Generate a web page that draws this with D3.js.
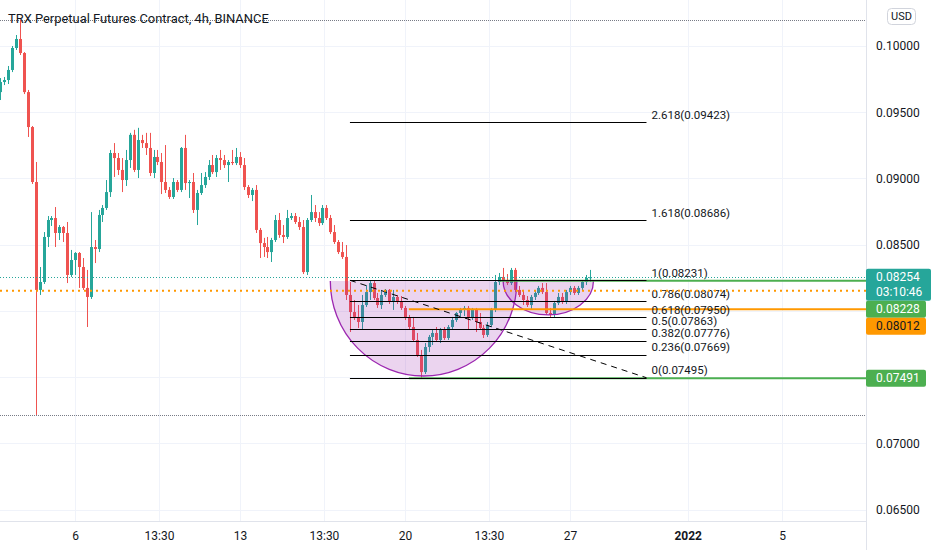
<!DOCTYPE html>
<html><head><meta charset="utf-8">
<script src="https://cdn.jsdelivr.net/npm/d3@7"></script>
<style>body{margin:0;background:#fff;}svg{display:block;}</style>
</head><body>
<svg id="c" width="932" height="550"></svg>
<script>
// ---------- DATA ----------
const title = "TRX Perpetual Futures Contract, 4h, BINANCE";
const startTime = Date.UTC(2021, 11, 2, 20);   // first 4h bar
const barHours = 4;
const open = [0.09652,0.09728,0.09743,0.09819,0.09985,0.10053,0.09947,0.09652,0.09388,0.08973,
0.08158,0.08218,0.08558,0.08686,0.08701,0.08588,0.08633,0.08588,0.08271,0.08384,
0.08437,0.08331,0.08173,0.08105,0.08482,0.08467,0.08724,0.08777,0.08897,0.09192,
0.09154,0.09064,0.08988,0.09139,0.09329,0.09064,0.09290,0.09267,0.09230,0.09041,
0.09162,0.09124,0.08973,0.08913,0.08860,0.08973,0.08913,0.09230,0.08965,0.08973,
0.08762,0.08890,0.08950,0.09011,0.09101,0.09048,0.09154,0.09139,0.09101,0.09124,
0.09116,0.09162,0.09101,0.08935,0.08875,0.08913,0.08611,0.08512,0.08482,0.08444,
0.08535,0.08686,0.08573,0.08558,0.08701,0.08716,0.08671,0.08633,0.08293,0.08686,
0.08746,0.08701,0.08663,0.08777,0.08701,0.08595,0.08520,0.08444,0.08407,0.08120,
0.07991,0.07954,0.07916,0.08044,0.08142,0.08210,0.08097,0.08044,0.08120,0.08158,
0.08067,0.08105,0.08067,0.08022,0.07946,0.07878,0.07780,0.07667,0.07538,0.07727,
0.07803,0.07833,0.07780,0.07856,0.07795,0.07878,0.07931,0.07984,0.08007,0.08022,
0.07946,0.08007,0.07916,0.07871,0.07818,0.07893,0.08007,0.08218,0.08256,0.08233,
0.08210,0.08309,0.08158,0.08120,0.08082,0.08044,0.08105,0.08135,0.08173,0.08142,
0.07984,0.07969,0.08059,0.08105,0.08067,0.08142,0.08173,0.08135,0.08173,0.08218,
0.08248];
const high = [0.09758,0.09766,0.09849,0.10000,0.10083,0.10196,0.09954,0.09668,0.09396,0.09124,
0.08331,0.08595,0.08716,0.08716,0.08784,0.08648,0.08641,0.08671,0.08460,0.08444,
0.08444,0.08399,0.08309,0.08746,0.08535,0.08762,0.08799,0.08988,0.09215,0.09267,
0.09192,0.09154,0.09215,0.09344,0.09367,0.09382,0.09329,0.09344,0.09344,0.09215,
0.09215,0.09192,0.09252,0.08935,0.09003,0.08988,0.09237,0.09329,0.08988,0.09041,
0.08913,0.09041,0.09048,0.09139,0.09177,0.09177,0.09215,0.09177,0.09139,0.09215,
0.09230,0.09199,0.09154,0.08950,0.08928,0.08950,0.08626,0.08551,0.08558,0.08551,
0.08724,0.08739,0.08648,0.08762,0.08739,0.08739,0.08709,0.08686,0.08701,0.08875,
0.08799,0.08746,0.08799,0.08799,0.08724,0.08648,0.08535,0.08520,0.08497,0.08218,
0.08082,0.08044,0.08120,0.08195,0.08225,0.08225,0.08135,0.08158,0.08165,0.08165,
0.08158,0.08120,0.08112,0.08037,0.07969,0.07954,0.07833,0.07705,0.07757,0.07818,
0.07856,0.07878,0.07871,0.07878,0.07893,0.07954,0.07991,0.08022,0.08037,0.08037,
0.08022,0.08022,0.07984,0.07893,0.07916,0.08022,0.08271,0.08286,0.08324,0.08278,
0.08324,0.08324,0.08188,0.08158,0.08112,0.08120,0.08150,0.08188,0.08210,0.08210,
0.08022,0.08075,0.08135,0.08135,0.08158,0.08188,0.08188,0.08188,0.08233,0.08271,
0.08309];
const low = [0.09592,0.09705,0.09713,0.09803,0.09970,0.09932,0.09637,0.09313,0.08958,0.07214,
0.08120,0.08203,0.08482,0.08641,0.08482,0.08535,0.08520,0.08210,0.08256,0.08271,
0.08173,0.08158,0.07878,0.08090,0.08361,0.08444,0.08671,0.08762,0.08860,0.09011,
0.09026,0.08897,0.08943,0.09079,0.09048,0.09003,0.09230,0.09177,0.09018,0.09003,
0.09101,0.08882,0.08890,0.08845,0.08845,0.08897,0.08897,0.08913,0.08852,0.08739,
0.08648,0.08875,0.08928,0.08988,0.09033,0.09011,0.09064,0.09079,0.08973,0.09101,
0.09101,0.09079,0.08913,0.08852,0.08829,0.08588,0.08399,0.08407,0.08399,0.08369,
0.08520,0.08551,0.08512,0.08543,0.08686,0.08656,0.08611,0.08278,0.08271,0.08671,
0.08671,0.08641,0.08648,0.08686,0.08580,0.08505,0.08429,0.08392,0.08082,0.07840,
0.07931,0.07871,0.07856,0.08029,0.08082,0.08082,0.08022,0.08014,0.08105,0.08052,
0.08007,0.08052,0.08007,0.07931,0.07863,0.07765,0.07652,0.07493,0.07523,0.07689,
0.07742,0.07765,0.07757,0.07780,0.07780,0.07863,0.07916,0.07954,0.07961,0.07856,
0.07931,0.07840,0.07856,0.07795,0.07803,0.07878,0.07991,0.08195,0.08210,0.08195,
0.08195,0.08142,0.08105,0.08044,0.08029,0.08014,0.08082,0.08120,0.08127,0.07969,
0.07954,0.07954,0.08044,0.08052,0.08052,0.08120,0.08120,0.08120,0.08158,0.08195,
0.08218];
const close = [0.09728,0.09743,0.09819,0.09985,0.10053,0.09947,0.09652,0.09388,0.08973,0.08158,
0.08218,0.08558,0.08686,0.08701,0.08588,0.08633,0.08588,0.08271,0.08384,0.08437,
0.08331,0.08173,0.08105,0.08482,0.08467,0.08724,0.08777,0.08897,0.09192,0.09154,
0.09064,0.08988,0.09139,0.09329,0.09064,0.09290,0.09267,0.09230,0.09041,0.09162,
0.09124,0.08973,0.08913,0.08860,0.08973,0.08913,0.09230,0.08965,0.08973,0.08762,
0.08890,0.08950,0.09011,0.09101,0.09048,0.09154,0.09139,0.09101,0.09124,0.09116,
0.09162,0.09101,0.08935,0.08875,0.08913,0.08611,0.08512,0.08482,0.08444,0.08535,
0.08686,0.08573,0.08558,0.08701,0.08716,0.08671,0.08633,0.08293,0.08686,0.08746,
0.08701,0.08663,0.08777,0.08701,0.08595,0.08520,0.08444,0.08407,0.08120,0.07991,
0.07954,0.07916,0.08044,0.08142,0.08210,0.08097,0.08044,0.08120,0.08158,0.08067,
0.08105,0.08067,0.08022,0.07946,0.07878,0.07780,0.07667,0.07538,0.07727,0.07803,
0.07833,0.07780,0.07856,0.07795,0.07878,0.07931,0.07984,0.08007,0.08022,0.07946,
0.08007,0.07916,0.07871,0.07818,0.07893,0.08007,0.08218,0.08256,0.08233,0.08210,
0.08309,0.08158,0.08120,0.08082,0.08044,0.08105,0.08135,0.08173,0.08142,0.07984,
0.07969,0.08059,0.08105,0.08067,0.08142,0.08173,0.08135,0.08173,0.08218,0.08248,
0.08254];

const priceTicks = [0.065,0.070,0.075,0.080,0.085,0.090,0.095,0.100];
const timeTickDates = [Date.UTC(2021,11,6), Date.UTC(2021,11,9,13,30), Date.UTC(2021,11,13),
  Date.UTC(2021,11,16,13,30), Date.UTC(2021,11,20), Date.UTC(2021,11,23,13,30),
  Date.UTC(2021,11,27), Date.UTC(2022,0,1), Date.UTC(2022,0,5)];
const timeTickLabels = ["6","13:30","13","13:30","20","13:30","27","2022","5"];

// Fibonacci retracement drawing
const fibLevels = [0, 0.236, 0.382, 0.5, 0.618, 0.786, 1, 1.618, 2.618];
const fibPrices = [0.07495, 0.07669, 0.07776, 0.07863, 0.07950, 0.08074, 0.08231, 0.08686, 0.09423];
const fibStart = Date.UTC(2021,11,17,16);
const fibEnd = Date.UTC(2021,11,30,6);

// cup arcs (left time, right time, rim price, bottom price)
const arcT0 = [Date.UTC(2021,11,16,20), Date.UTC(2021,11,24,4)];
const arcT1 = [Date.UTC(2021,11,24,18), Date.UTC(2021,11,28,0)];
const arcTop = [0.08226, 0.08226];
const arcBottom = [0.07508, 0.07969];

// horizontal lines
const highPrice = 0.10196, lowPrice = 0.07213;
const lastPrice = 0.08254, countdown = "03:10:46";
const orangeDotted = 0.08152;
const orangeRayPrice = 0.08012, orangeRayStart = Date.UTC(2021,11,20,4);
const greenRayPrices = [0.08228, 0.07491];
const greenRayStarts = [Date.UTC(2021,11,24,0), Date.UTC(2021,11,20,4)];

// ---------- CHART ----------
const FONT = "Roboto, 'Liberation Sans', Arial, sans-serif";
const TXT = "#131722";
const plotR = 866, plotB = 521;
const svg = d3.select("#c").attr("font-family", FONT);
const x = d3.scaleUtc().domain([Date.UTC(2021,11,6), Date.UTC(2022,0,5)]).range([75, 782]);
const y = d3.scaleLinear().domain([0.065, 0.1]).range([509.5, 46]);
const cy = v => Math.round(y(v)) + 0.5;
const cx = t => Math.round(x(t)) + 0.5;
const times = close.map((_, i) => startTime + i * barHours * 3600e3);

svg.append("rect").attr("width", 932).attr("height", 550).attr("fill", "#fff");
svg.append("defs").append("clipPath").attr("id", "pc")
  .append("rect").attr("width", plotR).attr("height", plotB);
const plot = svg.append("g").attr("clip-path", "url(#pc)");

// grid
plot.append("g").selectAll("line").data(priceTicks).join("line")
  .attr("x1", 0).attr("x2", plotR).attr("y1", cy).attr("y2", cy)
  .attr("stroke", "#f0f3fa");
plot.append("g").selectAll("line").data(timeTickDates).join("line")
  .attr("x1", cx).attr("x2", cx).attr("y1", 0).attr("y2", plotB)
  .attr("stroke", "#f0f3fa");

// high / low dotted lines
plot.append("g").selectAll("line").data([highPrice, lowPrice]).join("line")
  .attr("x1", 0).attr("x2", plotR).attr("y1", cy).attr("y2", cy)
  .attr("stroke", "#787b86").attr("stroke-dasharray", "1,1");

// candles
const idx = d3.range(close.length);
const col = i => close[i] >= open[i] ? "#26a69a" : "#ef5350";
const gC = plot.append("g");
gC.selectAll("line").data(idx).join("line")
  .attr("x1", i => cx(times[i])).attr("x2", i => cx(times[i]))
  .attr("y1", i => y(high[i])).attr("y2", i => y(low[i]))
  .attr("stroke", col).attr("stroke-width", 1);
gC.selectAll("rect").data(idx).join("rect")
  .attr("x", i => Math.round(x(times[i])) - 1).attr("width", 3)
  .attr("y", i => y(Math.max(open[i], close[i])))
  .attr("height", i => Math.max(1, Math.abs(y(open[i]) - y(close[i]))))
  .attr("fill", col);

// arcs
const arcIdx = d3.range(arcT0.length);
const arcD = i => {
  const x0 = x(arcT0[i]), x1 = x(arcT1[i]), yt = y(arcTop[i]), yb = y(arcBottom[i]);
  return `M${x0},${yt} A${(x1 - x0) / 2},${yb - yt} 0 0 0 ${x1},${yt}`;
};
const gA = plot.append("g");
gA.selectAll("path.f").data(arcIdx).join("path").attr("class", "f")
  .attr("d", i => arcD(i) + "Z").attr("fill", "rgba(156,39,176,0.2)").attr("stroke", "none");
gA.selectAll("path.s").data(arcIdx).join("path").attr("class", "s")
  .attr("d", arcD).attr("fill", "none").attr("stroke", "#9c27b0").attr("stroke-width", 1.3);

// green & orange rays
plot.append("g").selectAll("line").data(d3.range(greenRayPrices.length)).join("line")
  .attr("x1", i => x(greenRayStarts[i])).attr("x2", plotR)
  .attr("y1", i => y(greenRayPrices[i])).attr("y2", i => y(greenRayPrices[i]))
  .attr("stroke", "#4caf50").attr("stroke-width", 2);
plot.append("line").attr("x1", x(orangeRayStart)).attr("x2", plotR)
  .attr("y1", y(orangeRayPrice)).attr("y2", y(orangeRayPrice))
  .attr("stroke", "#ff9800").attr("stroke-width", 2);

// fib lines
const gF = plot.append("g");
gF.selectAll("line").data(fibPrices).join("line")
  .attr("x1", x(fibStart)).attr("x2", x(fibEnd)).attr("y1", cy).attr("y2", cy)
  .attr("stroke", "#000").attr("stroke-width", 1);
gF.append("line").attr("x1", x(fibStart)).attr("y1", y(fibPrices[6]))
  .attr("x2", x(fibEnd)).attr("y2", y(fibPrices[0]))
  .attr("stroke", "#000").attr("stroke-width", 1).attr("stroke-dasharray", "6,5");
gF.selectAll("text").data(d3.range(fibLevels.length)).join("text")
  .attr("x", x(fibEnd) + 5).attr("y", i => y(fibPrices[i]) - 3.5)
  .attr("font-size", 11.5).attr("fill", TXT)
  .text(i => `${fibLevels[i]}(${d3.format(".5f")(fibPrices[i])})`);

// price lines
plot.append("line").attr("x1", 0).attr("x2", plotR).attr("y1", cy(lastPrice)).attr("y2", cy(lastPrice))
  .attr("stroke", "#26a69a").attr("stroke-dasharray", "1,2");
plot.append("line").attr("x1", 0).attr("x2", plotR).attr("y1", y(orangeDotted)).attr("y2", y(orangeDotted))
  .attr("stroke", "#ff9800").attr("stroke-width", 2).attr("stroke-dasharray", "2,4");

// separators
svg.append("line").attr("x1", plotR + 0.5).attr("x2", plotR + 0.5).attr("y1", 0).attr("y2", 550).attr("stroke", "#e0e3eb");
svg.append("line").attr("x1", 0).attr("x2", plotR).attr("y1", plotB + 0.5).attr("y2", plotB + 0.5).attr("stroke", "#e0e3eb");

// axes
const gy = svg.append("g").attr("transform", `translate(${plotR},0)`)
  .call(d3.axisRight(y).tickValues(priceTicks).tickFormat(d3.format(".5f")).tickSize(0).tickPadding(10));
gy.select(".domain").remove();
gy.attr("font-size", 12).attr("font-family", FONT);
gy.selectAll("text").attr("fill", TXT);

const gx = svg.append("g").attr("transform", `translate(0,${plotB})`)
  .call(d3.axisBottom(x).tickValues(timeTickDates.map(d => new Date(d)))
    .tickFormat((d, i) => timeTickLabels[i]).tickSize(0).tickPadding(10));
gx.select(".domain").remove();
gx.attr("font-size", 12).attr("font-family", FONT);
gx.selectAll("text").attr("fill", TXT).attr("font-weight", (d, i) => timeTickLabels[i] === "2022" ? "bold" : null);

// price labels on axis
const fmt = d3.format(".5f");
const labels = [
  {p: lastPrice, bg: "#26a69a", fg: "#fff", lines: [fmt(lastPrice), countdown], w: 65},
  {p: greenRayPrices[0], bg: "#4caf50", fg: "#fff", lines: [fmt(greenRayPrices[0])], w: 60},
  {p: orangeRayPrice, bg: "#ff9800", fg: TXT, lines: [fmt(orangeRayPrice)], w: 60},
  {p: greenRayPrices[1], bg: "#4caf50", fg: "#fff", lines: [fmt(greenRayPrices[1])], w: 60}
];
let prevBottom = -Infinity;
labels.forEach(l => {
  const h = l.lines.length === 2 ? 32 : 17;
  let top = y(l.p) - 8.5;
  if (top < prevBottom) top = prevBottom;
  prevBottom = top + h;
  const g = svg.append("g");
  g.append("rect").attr("x", plotR).attr("y", top).attr("width", l.w).attr("height", h)
    .attr("rx", 2).attr("fill", l.bg);
  l.lines.forEach((t, k) => g.append("text").attr("x", plotR + 10).attr("y", top + 8.5 + k * 14.5)
    .attr("dy", "0.35em").attr("font-size", 12).attr("fill", l.fg).text(t));
});

// USD box
svg.append("rect").attr("x", 887.5).attr("y", 8.5).attr("width", 28).attr("height", 16).attr("rx", 4)
  .attr("fill", "#fff").attr("stroke", "#d1d4dc");
svg.append("text").attr("x", 901.5).attr("y", 16.5).attr("dy", "0.35em").attr("text-anchor", "middle")
  .attr("font-size", 11).attr("fill", TXT).text("USD");

// title
const tt = svg.append("text").attr("x", 8).attr("y", 18).attr("dy", "0.35em")
  .attr("font-size", 13).attr("fill", TXT).text(title);
const L = tt.node().getComputedTextLength();
if (L > 0) tt.attr("font-size", 13 * 261 / L);
</script>
</body></html>
